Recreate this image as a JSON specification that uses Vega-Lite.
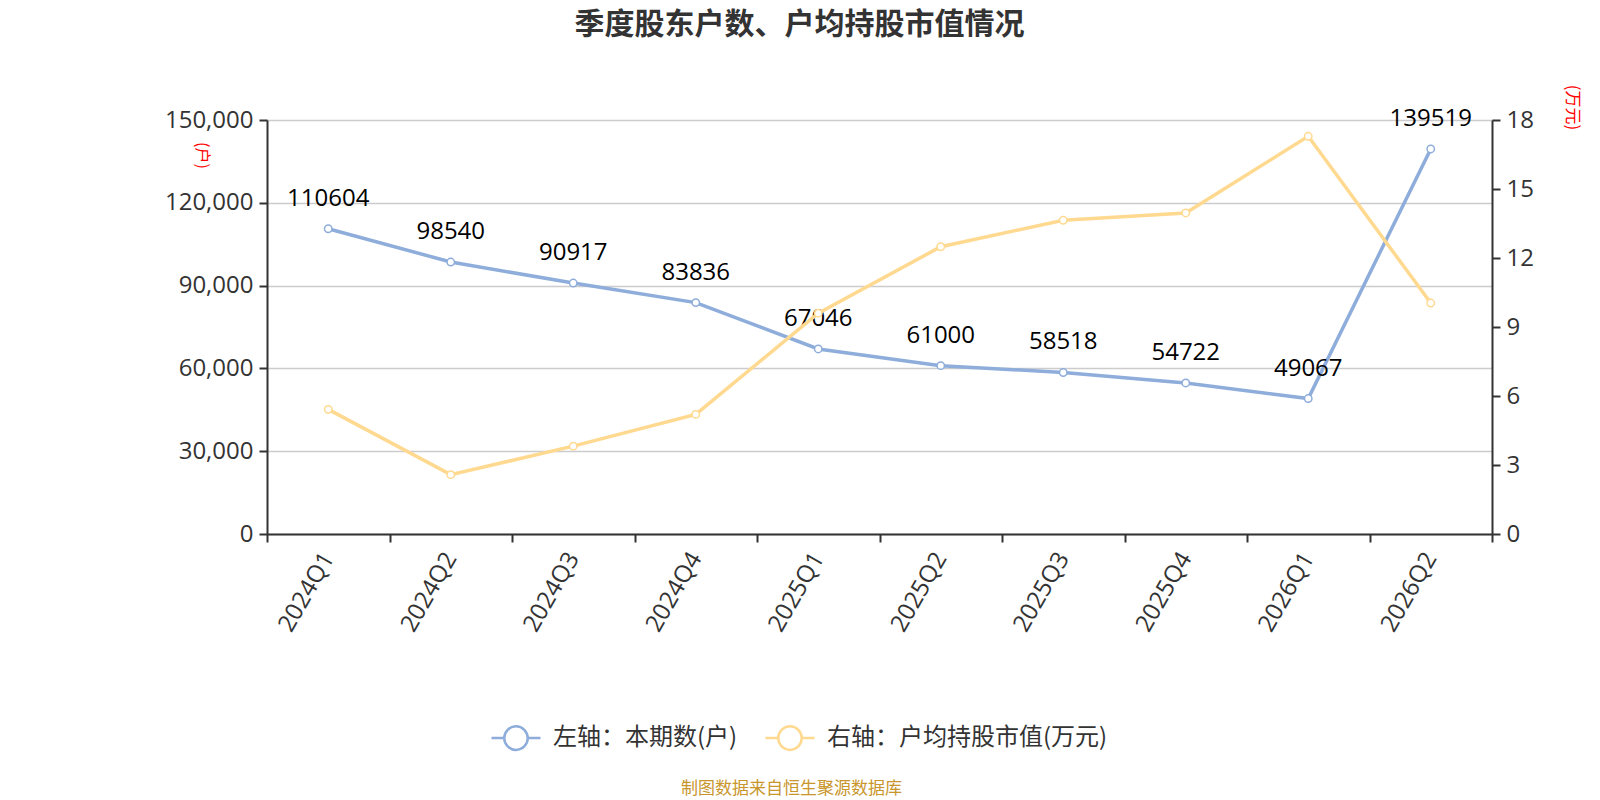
{
  "$schema": "https://vega.github.io/schema/vega-lite/v6.json",
  "autosize": {"type": "none"},
  "padding": {"left": 267, "top": 120, "right": 108, "bottom": 266},
  "width": 1225,
  "height": 414,
  "background": "#ffffff",
  "config": {
    "font": "Open Sans, Noto Sans CJK SC",
    "view": {"stroke": null}
  },
  "title": {
    "text": "季度股东户数、户均持股市值情况",
    "font": "Noto Sans CJK SC",
    "fontSize": 30,
    "fontWeight": "bold",
    "color": "#333333",
    "anchor": "middle",
    "frame": "group",
    "dx": -80,
    "offset": 44
  },
  "data": {
    "values": [
      {"quarter": "2024Q1", "holders": 110604, "avgValue": 5.42},
      {"quarter": "2024Q2", "holders": 98540, "avgValue": 2.58},
      {"quarter": "2024Q3", "holders": 90917, "avgValue": 3.82},
      {"quarter": "2024Q4", "holders": 83836, "avgValue": 5.2},
      {"quarter": "2025Q1", "holders": 67046, "avgValue": 9.6},
      {"quarter": "2025Q2", "holders": 61000, "avgValue": 12.49},
      {"quarter": "2025Q3", "holders": 58518, "avgValue": 13.64},
      {"quarter": "2025Q4", "holders": 54722, "avgValue": 13.96},
      {"quarter": "2026Q1", "holders": 49067, "avgValue": 17.29},
      {"quarter": "2026Q2", "holders": 139519, "avgValue": 10.04}
    ]
  },
  "encoding": {
    "x": {
      "field": "quarter",
      "type": "nominal",
      "sort": null,
      "scale": {"type": "band", "paddingInner": 0, "paddingOuter": 0},
      "axis": {
        "title": "制图数据来自恒生聚源数据库",
        "titleFont": "Noto Sans CJK SC",
        "titleColor": "#c8962d",
        "titleFontSize": 17,
        "titleFontWeight": "normal",
        "titleBaseline": "middle",
        "titleX": 524,
        "titleY": 254,
        "labelAngle": -60,
        "labelAlign": "right",
        "labelBaseline": "middle",
        "labelFontSize": 24,
        "labelColor": "#333333",
        "labelPadding": 12,
        "domainColor": "#333333",
        "domainWidth": 2,
        "tickColor": "#333333",
        "tickWidth": 2,
        "tickSize": 8,
        "tickBand": "extent",
        "grid": false
      }
    }
  },
  "layer": [
    {
      "layer": [
        {
          "mark": {"type": "line", "strokeWidth": 3.5, "point": {"filled": false, "fill": "#ffffff", "stroke": "#8eaddb", "strokeWidth": 1.5, "size": 55}},
          "encoding": {
            "y": {
              "field": "holders",
              "type": "quantitative",
              "scale": {"domain": [0, 150000], "nice": false},
              "axis": {
                "values": [0, 30000, 60000, 90000, 120000, 150000],
                "format": ",d",
                "title": "(户)",
                "titleFont": "Noto Sans CJK SC",
                "titleColor": "#ff0000",
                "titleFontSize": 16,
                "titleFontWeight": "normal",
                "titleAngle": 90,
                "titleX": -66,
                "titleY": 35,
                "titleAlign": "center",
                "titleBaseline": "middle",
                "labelFontSize": 24,
                "labelColor": "#333333",
                "labelPadding": 6,
                "domainColor": "#333333",
                "domainWidth": 2,
                "tickColor": "#333333",
                "tickWidth": 2,
                "tickSize": 8,
                "grid": true,
                "gridColor": "#cccccc",
                "gridWidth": 1.5
              }
            },
            "color": {
              "datum": "左轴：本期数(户)",
              "type": "nominal",
              "scale": {
                "domain": ["左轴：本期数(户)", "右轴：户均持股市值(万元)"],
                "range": ["#8eaddb", "#ffd98f"]
              },
              "legend": {
                "title": null,
                "orient": "none",
                "direction": "horizontal",
                "legendX": 223,
                "legendY": 592,
                "symbolType": "M-1,0L-0.48,0M0.48,0L1,0M-0.48,0A0.48,0.48,0,1,1,0.48,0A0.48,0.48,0,1,1,-0.48,0",
                "symbolSize": 2401,
                "symbolStrokeWidth": 2.5,
                "symbolFillColor": "#ffffff",
                "labelFont": "Noto Sans CJK SC",
                "labelFontSize": 24,
                "labelColor": "#333333",
                "labelLimit": 500,
                "labelOffset": 11,
                "columnPadding": 22,
                "encode": {"symbols": {"update": {"fill": {"value": "#ffffff"}}}}
              }
            }
          }
        },
        {
          "mark": {"type": "text", "fontSize": 24, "color": "#000000", "baseline": "middle", "dy": -30},
          "encoding": {
            "y": {"field": "holders", "type": "quantitative"},
            "text": {"field": "holders", "type": "quantitative", "format": "d"}
          }
        }
      ]
    },
    {
      "mark": {"type": "line", "strokeWidth": 3.5, "point": {"filled": false, "fill": "#ffffff", "stroke": "#ffd98f", "strokeWidth": 1.5, "size": 55}},
      "encoding": {
        "y": {
          "field": "avgValue",
          "type": "quantitative",
          "scale": {"domain": [0, 18], "nice": false},
          "axis": {
            "orient": "right",
            "values": [0, 3, 6, 9, 12, 15, 18],
            "title": "(万元)",
            "titleFont": "Noto Sans CJK SC",
            "titleColor": "#ff0000",
            "titleFontSize": 17,
            "titleFontWeight": "normal",
            "titleAngle": 90,
            "titleX": 79,
            "titleY": -13,
            "titleAlign": "center",
            "titleBaseline": "middle",
            "labelFontSize": 24,
            "labelColor": "#333333",
            "labelPadding": 6,
            "domainColor": "#333333",
            "domainWidth": 2,
            "tickColor": "#333333",
            "tickWidth": 2,
            "tickSize": 8,
            "grid": false
          }
        },
        "color": {"datum": "右轴：户均持股市值(万元)", "type": "nominal"}
      }
    }
  ],
  "resolve": {"scale": {"y": "independent"}}
}
